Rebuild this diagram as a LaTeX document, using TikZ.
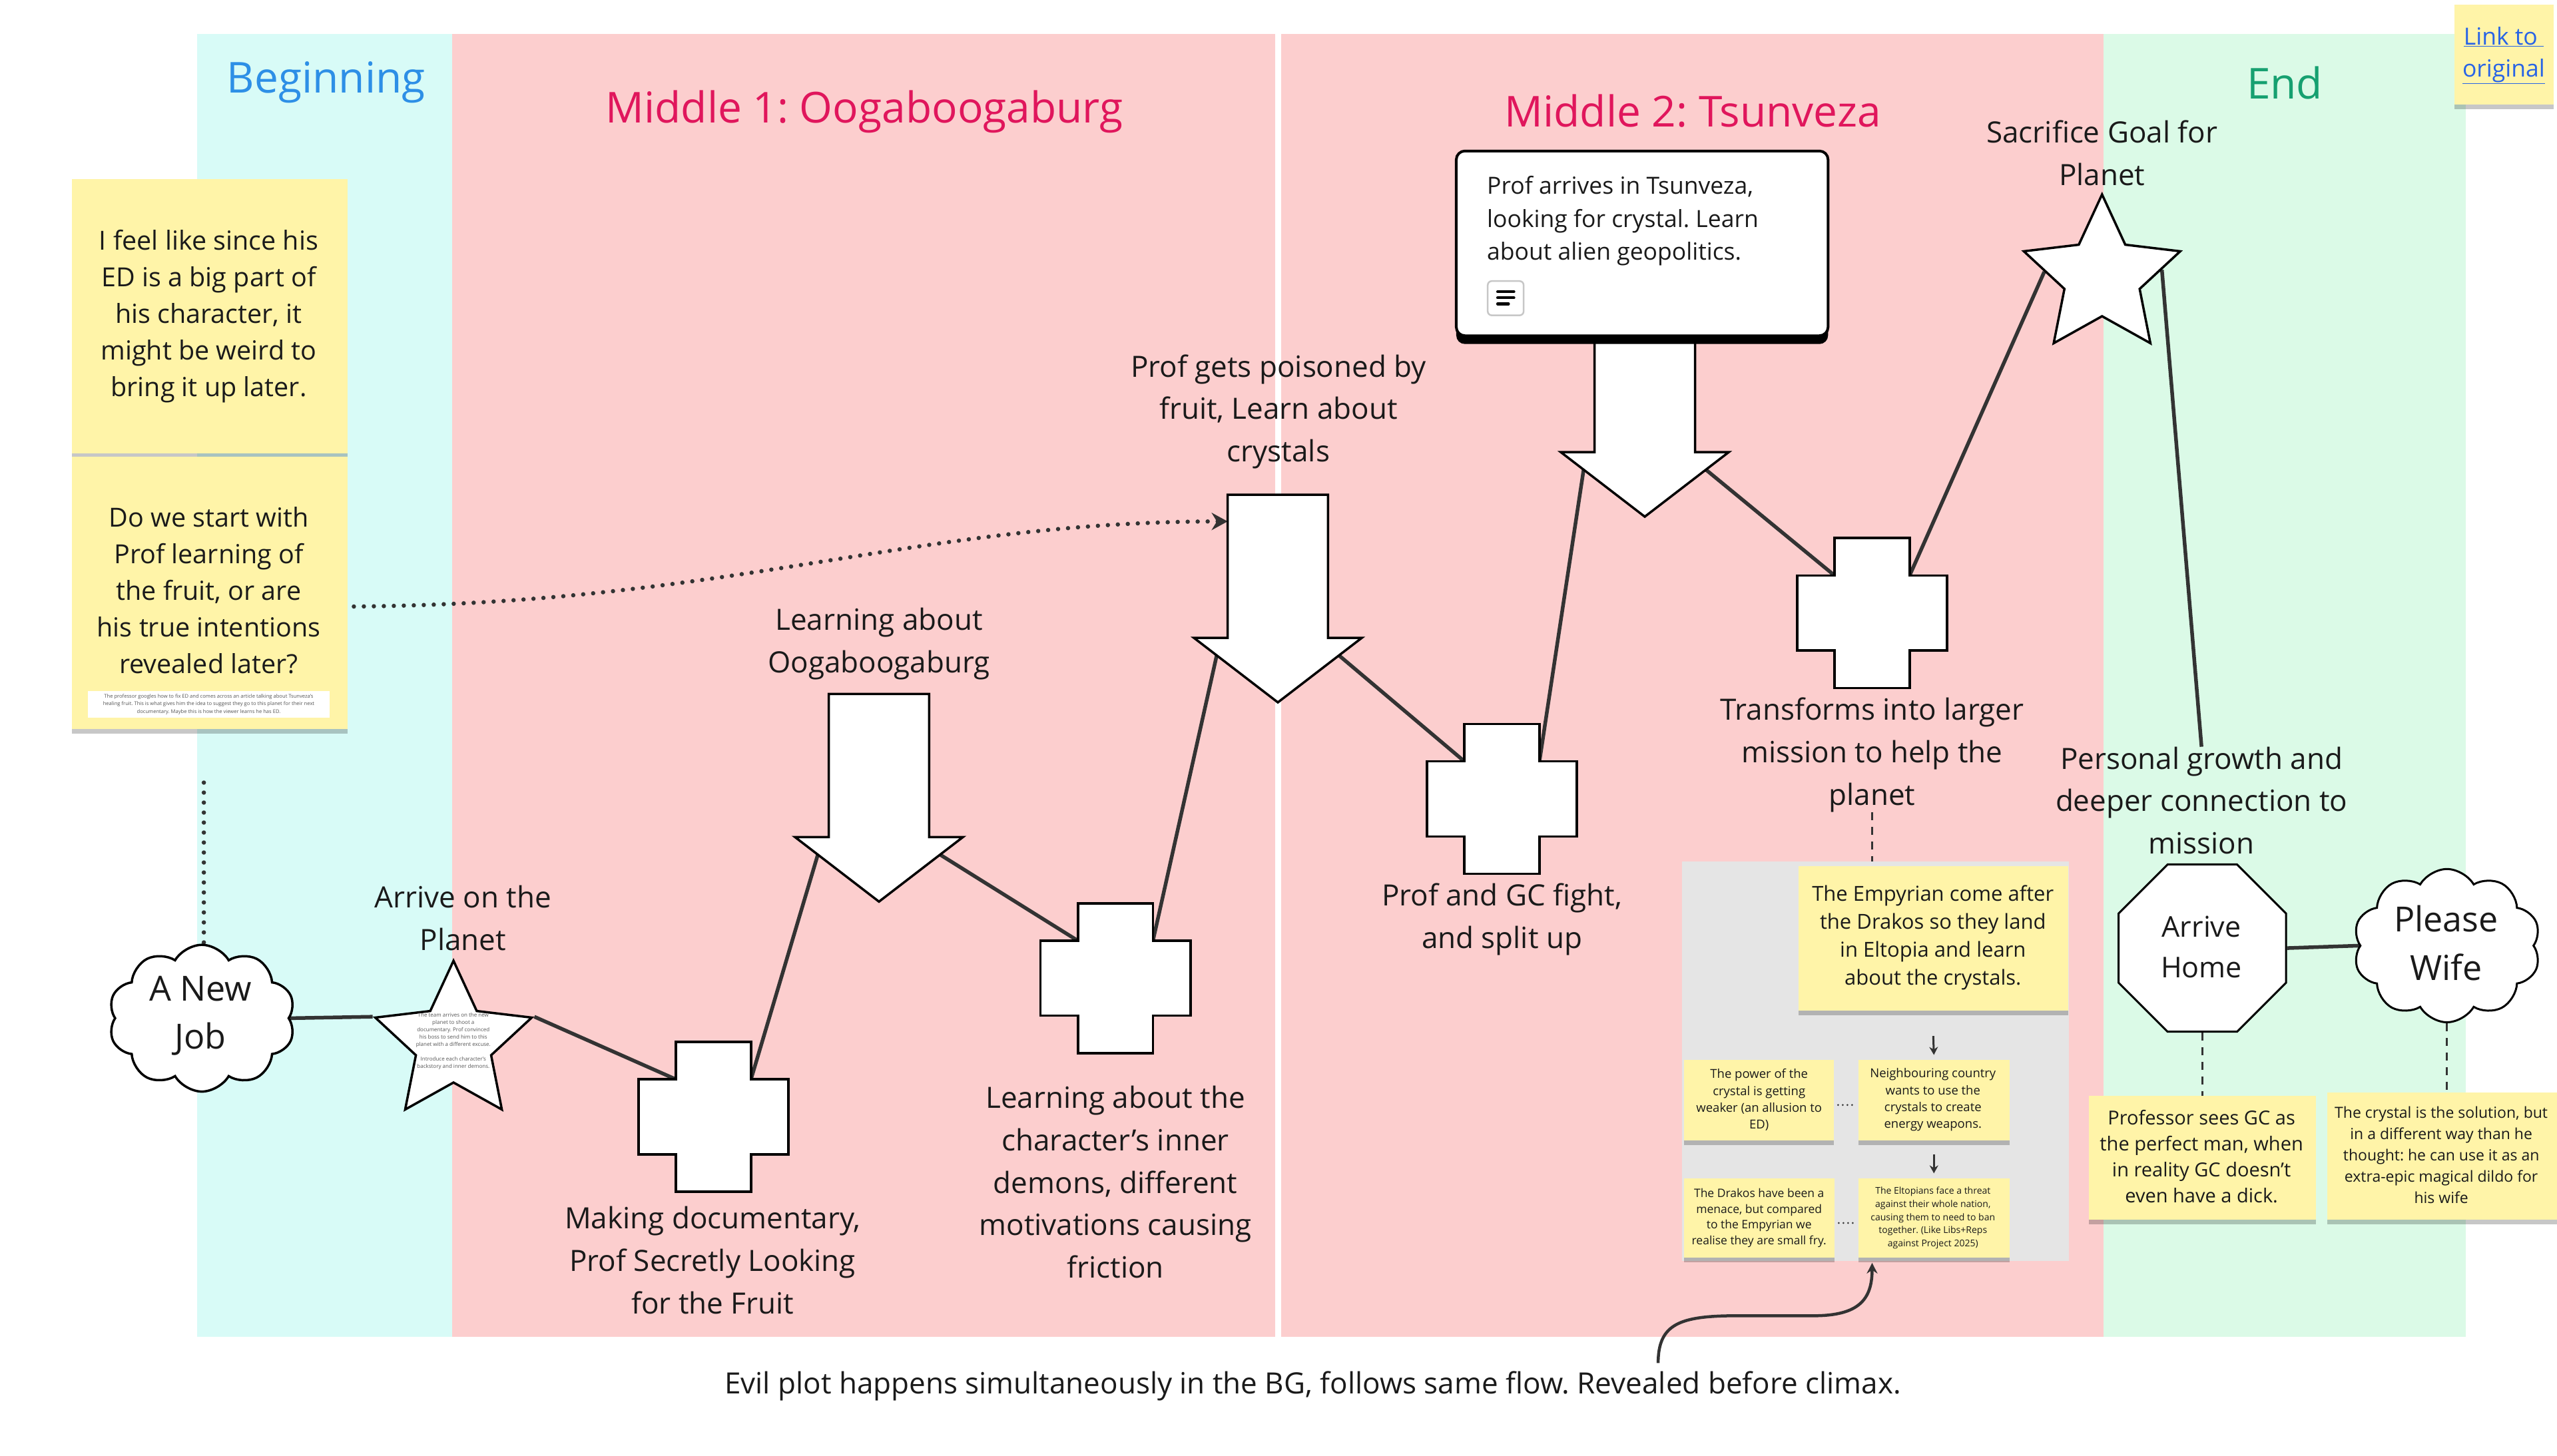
\documentclass[tikz,border=0pt]{standalone}
\usepackage{fontspec}
\setmainfont{Open Sans}
\frenchspacing
\usetikzlibrary{shapes.geometric,shapes.symbols,arrows.meta,calc,shadows}
\definecolor{cyanbg}{RGB}{216,251,247}
\definecolor{pinkbg}{RGB}{252,206,206}
\definecolor{greenbg}{RGB}{219,250,231}
\definecolor{stickyY}{RGB}{255,244,168}
\definecolor{panelgrey}{RGB}{229,229,229}
\definecolor{ink}{RGB}{26,26,26}
\definecolor{lineink}{RGB}{51,51,51}
\definecolor{titleblue}{RGB}{45,143,230}
\definecolor{titlered}{RGB}{224,22,92}
\definecolor{titlegreen}{RGB}{22,160,112}
\definecolor{linkblue}{RGB}{40,100,230}
\definecolor{smallgrey}{RGB}{85,85,85}
\newcommand{\fsz}[2]{\fontsize{#1}{#2}\selectfont}
\pgfdeclarelayer{bg}
\pgfdeclarelayer{mid}
\pgfsetlayers{bg,mid,main}
\tikzset{
  shapeline/.style={draw=black,line width=3.5pt,fill=white,line join=miter},
  conn/.style={draw=lineink,line width=5.5pt},
  dashconn/.style={draw=lineink,line width=3pt,dash pattern=on 12pt off 10pt},
  dotconn/.style={draw=lineink,line width=6.5pt,line cap=round,dash pattern=on 0pt off 15pt},
  smalldots/.style={draw=lineink,line width=3pt,line cap=round,dash pattern=on 0pt off 7pt},
  smallarrow/.style={draw=lineink,line width=3pt,-{Stealth[length=12pt,width=13pt]}},
  box/.style 2 args={minimum width=#1*2.449pt,minimum height=#2*2.449pt},
  sticky/.style={fill=stickyY,inner sep=0pt,drop shadow={shadow xshift=0pt,shadow yshift=-7pt,opacity=0.22,fill=black}},
  txt/.style={inner sep=0pt,align=center,text=ink},
  lbl/.style={txt,font=\fsz{44}{63.7}},
  title/.style={inner sep=0pt,font=\fsz{64}{76}},
  starshape/.style={star,star points=5,star point ratio=2.08,minimum size=247pt,inner sep=0pt,shapeline},
  cloudshape/.style={cloud,cloud puffs=10,cloud puff arc=120,cloud ignores aspect,inner sep=0pt,shapeline},
  pics/plusshape/.style={code={
    \draw[shapeline] (-23,-46) -- (23,-46) -- (23,-23) -- (46,-23) -- (46,23) -- (23,23) -- (23,46) -- (-23,46) -- (-23,23) -- (-46,23) -- (-46,-23) -- (-23,-23) -- cycle;
    \coordinate (-itl) at (-23,-23);
    \coordinate (-itr) at (23,-23);
  }},
  pics/downarrow/.style={code={
    \draw[shapeline] (0,0) -- (-51.5,-39.6) -- (-30.8,-39.6) -- (-30.8,-127.4) -- (30.8,-127.4) -- (30.8,-39.6) -- (51.5,-39.6) -- cycle;
    \coordinate (-hl) at (-37.5,-28.8);
    \coordinate (-hr) at (37.5,-28.8);
    \coordinate (-in) at (-30.8,-111);
  }}
}
\begin{document}
\begin{tikzpicture}[x=2.449pt,y=-2.449pt]
\useasboundingbox (0,0) rectangle (1568,893);
\begin{pgfonlayer}{bg}
\fill[white] (0,0) rectangle (1568,893);
\fill[cyanbg] (121,21) rectangle (277.3,820);
\fill[pinkbg] (277.3,21) rectangle (781.9,820);
\fill[pinkbg] (785.6,21) rectangle (1290,820);
\fill[greenbg] (1290,21) rectangle (1512,820);
\end{pgfonlayer}

% titles
\node[title,text=titleblue] (tBeg) at (200,50.5) {Beginning};
\node[title,text=titlered] (tM1) at (530,68.5) {Middle 1: Oogaboogaburg};
\node[title,text=titlered] (tM2) at (1038,68) {Middle 2: Tsunveza};
\node[title,text=titlegreen] (tEnd) at (1401,51) {End};

% left stickies
\node[sticky,box={169}{168}] (stA) at (128.5,194) {};
\node[txt,font=\fsz{39.5}{55}] (stAtxt) at (128,194) {I feel like since his\\ED is a big part of\\his character, it\\might be weird to\\bring it up later.};
\node[sticky,box={169}{167}] (stB) at (128.5,363.5) {};
\node[txt,font=\fsz{39.5}{55}] (stBtxt) at (128,362) {Do we start with\\Prof learning of\\the fruit, or are\\his true intentions\\revealed later?};
\node[fill=white,box={148}{16.3},inner sep=0pt] (wbox) at (128,432) {};
\node[txt,text=smallgrey,font=\fsz{7.6}{11.6}] (wboxtxt) at (128,432) {The professor googles how to fix ED and comes across an article talking about Tsunveza's\\healing fruit. This is what gives him the idea to suggest they go to this planet for their next\\documentary. Maybe this is how the viewer learns he has ED.};

% cloud A New Job
\node[cloudshape,box={114.5}{90}] (cl1) at (123.8,624.5) {};
\node[txt,font=\fsz{52}{72}] (cl1txt) at (123,623) {A New\\Job};

% star 1
\node[starshape] (st1) at (278.1,639.7) {};
\node[txt,text=smallgrey,font=\fsz{8}{11}] (st1txt) at (278,638.4) {The team arrives on the new\\planet to shoot a\\documentary. Prof convinced\\his boss to send him to this\\planet with a different excuse.\\[11pt]Introduce each character's\\backstory and inner demons.};
\node[lbl] (lblArrive) at (284,563) {Arrive on the\\Planet};

% crosses and arrows
\pic (cr1) at (437.5,685) {plusshape};
\node[lbl] (lblMaking) at (437,773) {Making documentary,\\Prof Secretly Looking\\for the Fruit};
\pic (ar1) at (539,553) {downarrow};
\node[lbl] (lblOoga) at (539,395) {Learning about\\Oogaboogaburg};
\pic (cr3) at (684,600) {plusshape};
\node[lbl] (lblDemons) at (684,725) {Learning about the\\character's inner\\demons, different\\motivations causing\\friction};
\pic (ar2) at (783.6,430.8) {downarrow};
\node[lbl] (lblPoison) at (784,252.5) {Prof gets poisoned by\\fruit, Learn about\\crystals};
\pic (cr2) at (921,490) {plusshape};
\node[lbl] (lblFight) at (921,564) {Prof and GC fight,\\and split up};
\pic (ar3) at (1008.6,316.9) {downarrow};

% doc card
\fill[black,rounded corners=13pt] (893,98) rectangle (1121,211);
\node[draw=black,line width=4pt,fill=white,rounded corners=13pt,box={228}{113.3},inner sep=0pt] (doccard) at (1007,149.25) {};
\node[txt,align=left,anchor=north west,font=\fsz{35.5}{49.7}] (doctxt) at (911.8,107.8) {Prof arrives in Tsunveza,\\looking for crystal. Learn\\about alien geopolitics.};
\node[draw=black!22,line width=2.5pt,rounded corners=6pt,fill=white,box={22}{21},inner sep=0pt] (icon) at (923.3,182.9) {};
\draw[line width=4.5pt,line cap=round] (918.4,178.9) -- (928.3,178.9);
\draw[line width=4.5pt,line cap=round] (918.4,182.6) -- (928.3,182.6);
\draw[line width=4.5pt,line cap=round] (918.4,186.4) -- (925,186.4);

\pic (cr4) at (1148,376) {plusshape};
\node[lbl] (lblTransforms) at (1148,463) {Transforms into larger\\mission to help the\\planet};

% star 2
\node[starshape] (st2) at (1289,169.7) {};
\node[lbl] (lblSacrifice) at (1289,94) {Sacrifice Goal for\\Planet};
\node[lbl] (lblGrowth) at (1350,491) {Personal growth and\\deeper connection to\\mission};

% end shapes
\node[regular polygon,regular polygon sides=8,minimum size=272pt,inner sep=0pt,draw=black,line width=3pt,fill=white] (oct) at (1350.5,581.5) {};
\node[txt,font=\fsz{43}{61}] (octtxt) at (1350,581) {Arrive\\Home};
\node[cloudshape,line width=3pt,box={115}{94}] (cl2) at (1500.5,580) {};
\node[txt,font=\fsz{52}{73}] (cl2txt) at (1500,578.5) {Please\\Wife};

\node[sticky,box={139}{76}] (stProf) at (1350.5,710) {};
\node[txt,font=\fsz{29}{39}] (stProftxt) at (1350,709.5) {Professor sees GC as\\the perfect man, when\\in reality GC doesn't\\even have a dick.};
\node[sticky,box={145}{78}] (stCrys) at (1499.5,709) {};
\node[txt,font=\fsz{23}{32}] (stCrystxt) at (1497,708.5) {The crystal is the solution, but\\in a different way than he\\thought: he can use it as an\\extra-epic magical dildo for\\his wife};

% grey panel
\node[fill=panelgrey,box={237}{245.2},inner sep=0pt] (gpanel) at (1150,650.9) {};
\node[sticky,box={165.5}{88.3}] (stEmp) at (1185.5,575.5) {};
\node[txt,font=\fsz{31}{42}] (stEmptxt) at (1185.3,575) {The Empyrian come after\\the Drakos so they land\\in Eltopia and learn\\about the crystals.};
\node[sticky,box={91.7}{49.5}] (stPow) at (1078.7,674.75) {};
\node[txt,font=\fsz{18.5}{25.3}] (stPowtxt) at (1078.7,674.6) {The power of the\\crystal is getting\\weaker (an allusion to\\ED)};
\node[sticky,box={92.6}{49.5}] (stNei) at (1185.9,674.75) {};
\node[txt,font=\fsz{18.5}{25.3}] (stNeitxt) at (1185.3,674.6) {Neighbouring country\\wants to use the\\crystals to create\\energy weapons.};
\node[sticky,box={92.1}{48.7}] (stDra) at (1078.9,747.1) {};
\node[txt,font=\fsz{17.5}{23.7}] (stDratxt) at (1078.7,747) {The Drakos have been a\\menace, but compared\\to the Empyrian we\\realise they are small fry.};
\node[sticky,box={92.6}{48.7}] (stElt) at (1185.9,747.1) {};
\node[txt,font=\fsz{14}{19.6}] (stElttxt) at (1185.3,747) {The Eltopians face a threat\\against their whole nation,\\causing them to need to ban\\together. (Like Libs+Reps\\against Project 2025)};
\draw[smallarrow] ($(stEmp.south)+(0,15.7)$) -- ($(stNei.north)+(0,-2.9)$);
\draw[smallarrow] ($(stNei.south)+(0,8.3)$) -- ($(stElt.north)+(0,-3)$);
\draw[smalldots] ($(stPow.east)+(2.5,3)$) -- ($(stNei.west)+(-1.5,3)$);
\draw[smalldots] ($(stDra.east)+(2.5,3)$) -- ($(stElt.west)+(-1.5,3)$);

% link sticky
\node[sticky,box={60.9}{61.1}] (stLink) at (1535.5,33.5) {};
\node[txt,text=linkblue,font=\fsz{35.5}{48}] (stLinktxt) at (1535.3,34) {\underline{Link to\ }\\\underline{original}};

% caption
\node[txt,font=\fsz{44}{60}] (caption) at (805,850) {Evil plot happens simultaneously in the BG, follows same flow. Revealed before climax.};

% connectors
\coordinate (dotStart) at (217,372);
\coordinate (dotTop) at (125,480);
\coordinate (curveStart) at (1016.8,836);
\begin{pgfonlayer}{mid}
\draw[conn] (cl1.east) -- (st1.outer point 2);
\draw[conn] (st1.outer point 5) -- (cr1-itl);
\draw[conn] (cr1-itr) -- (ar1-hl);
\draw[conn] (ar1-hr) -- (cr3-itl);
\draw[conn] (cr3-itr) -- (ar2-hl);
\draw[conn] (ar2-hr) -- (cr2-itl);
\draw[conn] (cr2-itr) -- (ar3-hl);
\draw[conn] (ar3-hr) -- (cr4-itl);
\draw[conn] (cr4-itr) -- ($(st2.outer point 2)!0.55!(st2.inner point 2)$);
\draw[conn] ($(st2.outer point 5)!0.5!(st2.inner point 4)$) -- (lblGrowth.north);
\draw[conn] (oct.east) -- (cl2.west);
\draw[dashconn] (oct.south) -- (oct.south |- stProf.north);
\draw[dashconn] (cl2.south) -- (cl2.south |- stCrys.north);
\draw[dashconn] (lblTransforms.south) -- (lblTransforms.south |- gpanel.north);
\draw[dotconn,-{Stealth[length=24pt,width=26pt]}] (dotStart) .. controls (450,370) and (560,320) .. (ar2-in);
\draw[dotconn] (dotTop) -- (dotTop |- cl1.north);
\end{pgfonlayer}
\draw[draw=lineink,line width=4.5pt,-{Stealth[length=16pt,width=16pt]}] (curveStart) .. controls (1016.8,812) and (1030,807) .. (1065,807) -- (1112,807) .. controls (1140,807) and (1148,797) .. ($(stElt.south west)+(8.5,3)$);
\end{tikzpicture}
\end{document}
